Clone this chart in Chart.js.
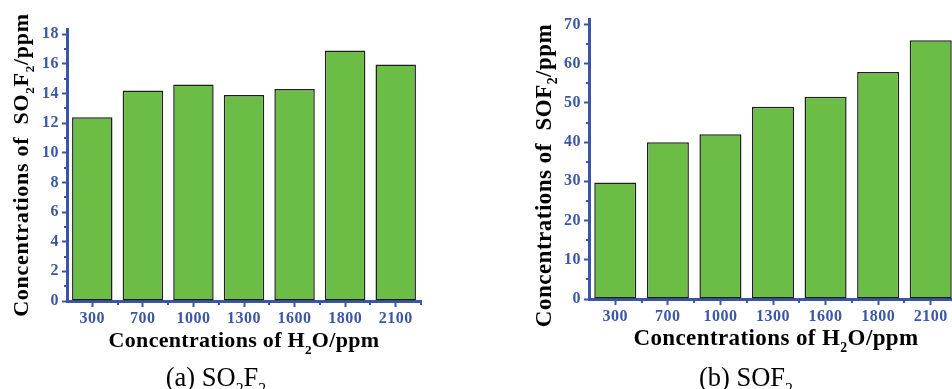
<!DOCTYPE html>
<html>
<head>
<meta charset="utf-8">
<script src="https://cdn.jsdelivr.net/npm/chart.js@4/dist/chart.umd.min.js"></script>
<style>
html, body { margin: 0; padding: 0; background: #fff; overflow: hidden; width: 952px; height: 389px; }
.box { position: absolute; top: 0; height: 389px; }
#boxA { left: 0; width: 476px; }
#boxB { left: 500px; width: 500px; }
</style>
</head>
<body>
<div class="box" id="boxA"><canvas id="chartA" width="476" height="389"></canvas></div>
<div class="box" id="boxB"><canvas id="chartB" width="500" height="389"></canvas></div>
<script>
// water concentrations (ppm) on the x axis
const h2o = ['300', '700', '1000', '1300', '1600', '1800', '2100'];
// SO2F2 produced (ppm)
const so2f2 = [12.4, 14.2, 14.6, 13.9, 14.3, 16.9, 15.95];
// SOF2 produced (ppm)
const sof2 = [29.7, 40, 42, 49, 51.6, 57.9, 66];

const blue = '#3b56a6';
const green = '#6cbd45';
const serif = '"Liberation Serif", "Times New Roman", serif';

// draw text with subscripts, centred on (x, y)
function richText(ctx, parts, x, y, size, weight, angle, spacing) {
    ctx.save();
    ctx.translate(x, y);
    ctx.rotate(angle);
    ctx.textBaseline = 'alphabetic';
    ctx.textAlign = 'left';
    ctx.fillStyle = '#000';
    ctx.letterSpacing = spacing + 'px';
    const widths = parts.map(p => {
        ctx.font = weight + ' ' + (p.sub ? size * 0.6 : size) + 'px ' + serif;
        return ctx.measureText(p.t).width;
    });
    let cx = -widths.reduce((a, b) => a + b, 0) / 2;
    parts.forEach((p, i) => {
        ctx.font = weight + ' ' + (p.sub ? size * 0.6 : size) + 'px ' + serif;
        ctx.fillText(p.t, cx, p.sub ? size * 0.3 : 0);
        cx += widths[i];
    });
    ctx.restore();
}

const titles = {
    id: 'titles',
    afterDraw(chart, args, o) {
        const ctx = chart.ctx;
        richText(ctx, o.yTitle, o.yPos[0], o.yPos[1], o.size, 'bold', -Math.PI / 2, o.ySpace);
        richText(ctx, o.xTitle, o.xPos[0], o.xPos[1], o.size, 'bold', 0, o.xSpace);
        richText(ctx, o.caption, o.cPos[0], o.cPos[1], 26.5, 'normal', 0, 0);
    }
};

// spread the tick digits a little, like the original
const spacing = {
    id: 'spacing',
    beforeUpdate(chart) { chart.ctx.letterSpacing = '0.5px'; },
    beforeDraw(chart) { chart.ctx.letterSpacing = '0.5px'; }
};

// small ticks between the labelled ones
const minorTicks = {
    id: 'minorTicks',
    afterDraw(chart) {
        const { ctx, scales: { x, y } } = chart;
        ctx.save();
        ctx.strokeStyle = blue;
        ctx.lineWidth = 2;
        ctx.beginPath();
        const vals = y.ticks.map(t => t.value);
        for (let i = 0; i < vals.length - 1; i++) {
            const py = Math.round(y.getPixelForValue((vals[i] + vals[i + 1]) / 2));
            ctx.moveTo(x.left - 3, py);
            ctx.lineTo(x.left + 1, py);
        }
        for (let i = 1; i <= h2o.length; i++) {
            const px = Math.round(x.getPixelForValue(i - 0.5));
            ctx.moveTo(px, y.bottom - 1);
            ctx.lineTo(px, y.bottom + 4);
        }
        ctx.stroke();
        ctx.restore();
    }
};

function makeChart(id, values, step, max, yWidth, pad, titleOpts) {
    return new Chart(id, {
        type: 'bar',
        data: {
            labels: h2o,
            datasets: [{
                data: values,
                backgroundColor: green,
                borderColor: '#1f1f1f',
                borderWidth: 1.5,
                borderSkipped: false,
                categoryPercentage: 1,
                barPercentage: 0.8
            }]
        },
        options: {
            responsive: false,
            animation: false,
            layout: { padding: pad },
            plugins: {
                legend: { display: false },
                tooltip: { enabled: false },
                titles: titleOpts
            },
            scales: {
                x: {
                    afterFit(s) { s.height = 30; },
                    grid: { offset: false, drawOnChartArea: false, tickLength: 6, tickWidth: 2, tickColor: blue },
                    border: { color: blue, width: 3 },
                    ticks: { color: blue, padding: 2, font: { family: serif, size: 16, weight: 'bold' } }
                },
                y: {
                    min: 0,
                    max: max,
                    afterFit(s) { s.width = yWidth; },
                    grid: { drawOnChartArea: false, tickLength: 5, tickWidth: 2, tickColor: blue },
                    border: { color: blue, width: 3 },
                    ticks: { stepSize: step, includeBounds: false, color: blue, padding: 3, font: { family: serif, size: 16, weight: 'bold' } }
                }
            }
        },
        plugins: [spacing, minorTicks, titles]
    });
}

makeChart('chartA', so2f2, 2, 18.35, 67, { left: 0, top: 29, right: 55, bottom: 58 }, {
    size: 22,
    yTitle: [{ t: 'Concentrations of  SO' }, { t: '2', sub: true }, { t: 'F' }, { t: '2', sub: true }, { t: '/ppm' }],
    yPos: [27.5, 165],
    ySpace: 0.7,
    xTitle: [{ t: 'Concentrations of H' }, { t: '2', sub: true }, { t: 'O/ppm' }],
    xPos: [244, 347],
    xSpace: 0.3,
    caption: [{ t: '(a) SO' }, { t: '2', sub: true }, { t: 'F' }, { t: '2', sub: true }],
    cPos: [216, 386]
});

makeChart('chartB', sof2, 10, 71.4, 89, { left: 0, top: 19, right: 43, bottom: 60 }, {
    size: 23,
    yTitle: [{ t: 'Concentrations of  SOF' }, { t: '2', sub: true }, { t: '/ppm' }],
    yPos: [50.5, 175.5],
    ySpace: 0.5,
    xTitle: [{ t: 'Concentrations of H' }, { t: '2', sub: true }, { t: 'O/ppm' }],
    xPos: [276, 345],
    xSpace: 0.4,
    caption: [{ t: '(b) SOF' }, { t: '2', sub: true }],
    cPos: [246, 386]
});
</script>
</body>
</html>
